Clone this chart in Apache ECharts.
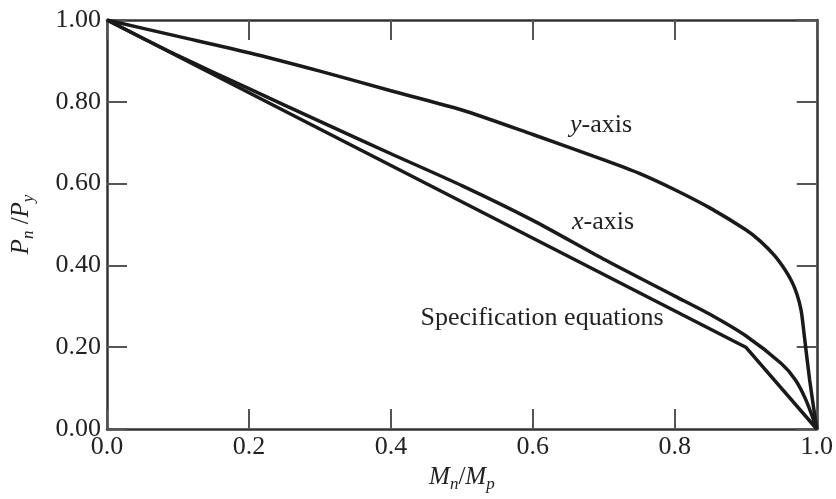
<!DOCTYPE html>
<html>
<head>
<meta charset="utf-8">
<script src="https://cdn.jsdelivr.net/npm/echarts@6/dist/echarts.min.js"></script>
<style>
  html, body { margin: 0; padding: 0; background: #fff; }
  #chart { width: 836px; height: 499px; }
</style>
</head>
<body>
<div id="chart"></div>
<script>
  // M/Mp values and P/Py values
  const yAxisM = [0, 0.1, 0.2, 0.3, 0.4, 0.5, 0.6, 0.7, 0.75, 0.8, 0.85, 0.9, 0.92, 0.94, 0.955, 0.965, 0.972, 0.978, 0.983, 0.99, 1.0];
  const yAxisP = [1, 0.96, 0.92, 0.875, 0.827, 0.78, 0.72, 0.658, 0.625, 0.585, 0.54, 0.487, 0.46, 0.425, 0.39, 0.36, 0.33, 0.29, 0.22, 0.12, 0];
  const xAxisM = [0, 0.05, 0.1, 0.2, 0.3, 0.4, 0.5, 0.6, 0.7, 0.8, 0.85, 0.9, 0.95, 0.97, 0.985, 1.0];
  const xAxisP = [1, 0.956, 0.913, 0.832, 0.752, 0.673, 0.595, 0.51, 0.415, 0.325, 0.28, 0.228, 0.16, 0.12, 0.07, 0];
  const specM = [0, 0.9, 1.0];
  const specP = [1, 0.2, 0];

  const noteText = ['{i|y}-axis', '{i|x}-axis', 'Specification equations'];
  const noteM = [0.696, 0.699, 0.613];
  const noteP = [0.743, 0.506, 0.271];

  const serif = "'Liberation Serif', 'Times New Roman', serif";
  const ink = '#1a1a1a';
  const textColor = '#222';

  function pairs(xs, ys) {
    return xs.map((x, i) => [x, ys[i]]);
  }

  const nameRich = {
    i: { fontFamily: serif, fontStyle: 'italic', fontSize: 25, color: textColor },
    t: { fontFamily: serif, fontSize: 25, color: textColor },
    s: { fontFamily: serif, fontStyle: 'italic', fontSize: 17, color: textColor, padding: [15, 0, 0, 0] }
  };

  const axisCommon = {
    type: 'value',
    min: 0,
    max: 1,
    interval: 0.2,
    splitLine: { show: false },
    axisLine: { show: true, onZero: false, lineStyle: { color: '#333', width: 2.5 } },
    axisTick: { show: true, inside: true, length: 20, lineStyle: { color: '#555', width: 2 } }
  };

  const chart = echarts.init(document.getElementById('chart'));
  chart.setOption({
    animation: false,
    grid: { left: 107, right: 18, top: 20, bottom: 70 },
    xAxis: [
      Object.assign({}, axisCommon, {
        position: 'bottom',
        name: '{i|M}{s|n}{t|/}{i|M}{s|p}',
        nameLocation: 'middle',
        nameGap: 24,
        nameTextStyle: { rich: nameRich },
        axisLabel: {
          margin: 5,
          fontFamily: serif, fontSize: 26, color: textColor,
          formatter: v => v.toFixed(1)
        }
      }),
      Object.assign({}, axisCommon, {
        position: 'top',
        axisLabel: { show: false }
      })
    ],
    yAxis: [
      Object.assign({}, axisCommon, {
        position: 'left',
        name: '{i|P}{s|n}{t| /}{i|P}{s|y}',
        nameLocation: 'middle',
        nameGap: 70,
        nameTextStyle: { rich: nameRich },
        axisLabel: {
          margin: 6,
          fontFamily: serif, fontSize: 26, color: textColor,
          formatter: v => v.toFixed(2)
        }
      }),
      Object.assign({}, axisCommon, {
        position: 'right',
        axisLabel: { show: false }
      })
    ],
    series: [
      {
        name: 'y-axis',
        type: 'line',
        data: pairs(yAxisM, yAxisP),
        showSymbol: false,
        smooth: 0.25,
        lineStyle: { color: ink, width: 3.5 }
      },
      {
        name: 'x-axis',
        type: 'line',
        data: pairs(xAxisM, xAxisP),
        showSymbol: false,
        smooth: 0.25,
        lineStyle: { color: ink, width: 3.5 }
      },
      {
        name: 'Specification equations',
        type: 'line',
        data: pairs(specM, specP),
        showSymbol: false,
        lineStyle: { color: ink, width: 3.5 }
      },
      {
        name: 'notes',
        type: 'scatter',
        symbolSize: 1,
        itemStyle: { color: 'rgba(0,0,0,0)' },
        silent: true,
        data: noteM.map((m, i) => ({ value: [m, noteP[i]], name: noteText[i] })),
        label: {
          show: true,
          position: 'inside',
          formatter: p => p.name,
          fontFamily: serif,
          fontSize: 26,
          color: textColor,
          opacity: 1,
          textBorderWidth: 0,
          rich: {
            i: { fontFamily: serif, fontStyle: 'italic', fontSize: 26, color: textColor }
          }
        }
      }
    ]
  });
</script>
</body>
</html>
